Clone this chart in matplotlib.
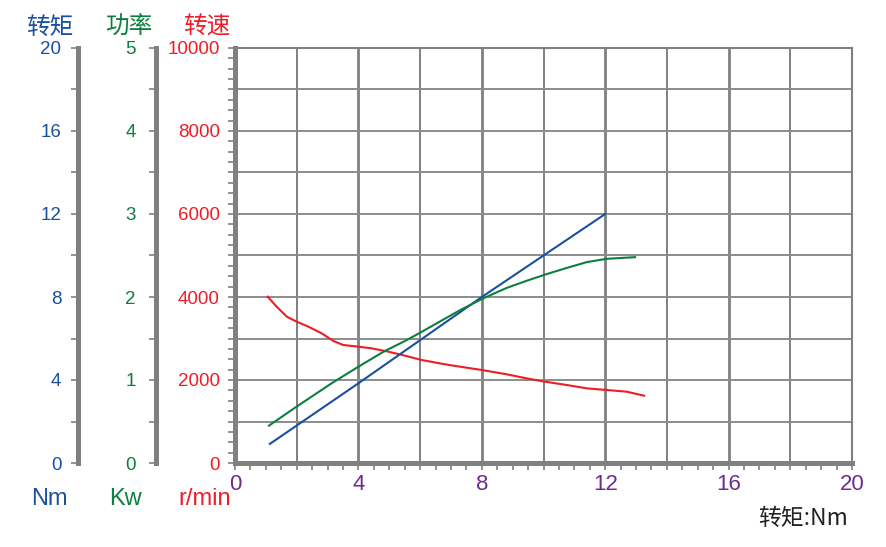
import numpy as np
import matplotlib.pyplot as plt
from matplotlib.ticker import MultipleLocator

# torque (Nm) on x
torque_x = [1.13, 4.0, 8.0, 12.0]
torque_y = [0.92, 3.84, 8.0, 12.0]

power_x = [1.10, 2.0, 3.13, 4.0, 4.81, 5.51, 6.05, 6.81, 7.29, 8.0, 8.81,
           9.45, 10.05, 10.75, 11.4, 12.05, 12.97]
power_kw = [0.45, 0.68, 0.96, 1.16, 1.34, 1.47, 1.58, 1.74, 1.84, 1.976, 2.11,
            2.195, 2.27, 2.35, 2.42, 2.46, 2.48]

speed_x = [1.06, 1.35, 1.68, 2.0, 2.38, 2.81, 3.19, 3.51, 4.0, 4.43, 4.97,
           5.51, 6.05, 6.81, 7.29, 8.0, 8.81, 9.45, 10.05, 10.75, 11.4, 12.05,
           12.7, 13.26]
speed_rpm = [4008, 3767, 3526, 3405, 3285, 3125, 2940, 2843, 2803, 2763, 2683,
             2586, 2482, 2378, 2321, 2241, 2137, 2040, 1959, 1880, 1799, 1759,
             1718, 1622]

BLUE = "#1b4fa0"
GREEN = "#0c7f3f"
RED = "#ee1c25"
PURPLE = "#6c2c91"
GRAY = "#808080"
LAT = "Liberation Sans"
CJK = ["Noto Sans CJK SC", "DejaVu Sans"]

W, H = 886, 547
fig = plt.figure(figsize=(W / 100, H / 100), dpi=100)
ax = fig.add_axes([235 / W, 84 / H, 617 / W, 415 / H])

ax.set_xlim(0, 20)
ax.set_ylim(0, 10000)

# grid
for gx in np.arange(2, 20, 2):
    ax.axvline(gx, color=GRAY, lw=2.0 if gx % 4 == 0 else 1.4, zorder=1)
for gy in np.arange(1000, 10000, 1000):
    ax.axhline(gy, color="#8c8c8c", lw=1.4, zorder=1)

for s in ["top", "right"]:
    ax.spines[s].set_color(GRAY)
    ax.spines[s].set_linewidth(1.5)
for s in ["left", "bottom"]:
    ax.spines[s].set_color(GRAY)
    ax.spines[s].set_linewidth(3.6)

ax.xaxis.set_major_locator(MultipleLocator(4))
ax.xaxis.set_minor_locator(MultipleLocator(0.5))
ax.yaxis.set_major_locator(MultipleLocator(2000))
ax.yaxis.set_minor_locator(MultipleLocator(250))
ax.tick_params(axis="x", which="both", length=5, width=1.2, color=GRAY,
               labelcolor=PURPLE, labelsize=16, pad=3)
ax.tick_params(axis="y", which="both", length=5, width=1.2, color=GRAY,
               labelcolor=RED, labelsize=13.5, pad=6)
for lb in ax.get_xticklabels() + ax.get_yticklabels():
    lb.set_family(LAT)

ax.plot(speed_x, speed_rpm, color=RED, lw=1.5, zorder=4)


def side_axis(pos, top, major, minor, color, pad):
    t = ax.twinx()
    t.patch.set_visible(False)
    for s in ["top", "right", "bottom"]:
        t.spines[s].set_visible(False)
    t.spines["left"].set_position(("axes", pos))
    t.spines["left"].set_color(GRAY)
    t.spines["left"].set_linewidth(3.6)
    t.yaxis.set_ticks_position("left")
    t.yaxis.set_label_position("left")
    t.set_ylim(0, top)
    t.yaxis.set_major_locator(MultipleLocator(major))
    t.yaxis.set_minor_locator(MultipleLocator(minor))
    t.tick_params(axis="y", which="both", length=5, width=1.2, color=GRAY,
                  labelcolor=color, labelsize=13.5, pad=pad)
    for lb in t.get_yticklabels():
        lb.set_family(LAT)
    return t


tax = side_axis((78 - 235) / 617, 20, 4, 2, BLUE, 7)
pax = side_axis((156 - 235) / 617, 5, 1, 0.5, GREEN, 9.5)

tax.plot(torque_x, torque_y, color=BLUE, lw=1.5, zorder=3)
pax.plot(power_x, power_kw, color=GREEN, lw=1.5, zorder=3)

# header and unit labels
fig.text(50 / W, 1 - 27 / H, "转矩", color=BLUE, fontsize=17, family=CJK,
         ha="center", va="center")
fig.text(129 / W, 1 - 27 / H, "功率", color=GREEN, fontsize=17, family=CJK,
         ha="center", va="center")
fig.text(207 / W, 1 - 27 / H, "转速", color=RED, fontsize=17, family=CJK,
         ha="center", va="center")
fig.text(49 / W, 1 - 499 / H, "Nm", color=BLUE, fontsize=17, family=LAT,
         ha="center", va="center")
fig.text(125 / W, 1 - 499 / H, "Kw", color=GREEN, fontsize=17, family=LAT,
         ha="center", va="center")
fig.text(205 / W, 1 - 499 / H, "r/min", color=RED, fontsize=17, family=LAT,
         ha="center", va="center")
fig.text(848 / W, 1 - 518 / H, "转矩:Nm", color="#222222", fontsize=16.5,
         family=CJK, ha="right", va="center")

fig.savefig("out.png", dpi=100)
